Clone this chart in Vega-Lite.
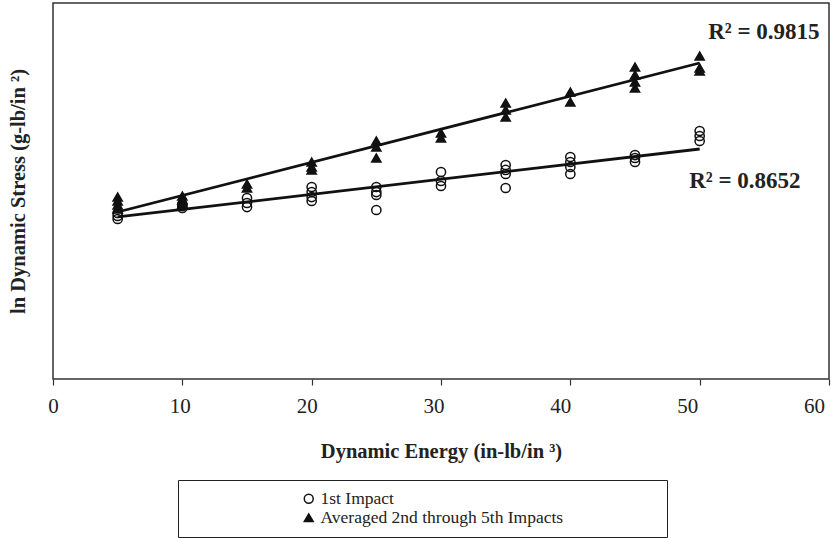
{
  "$schema": "https://vega.github.io/schema/vega-lite/v6.json",
  "width": 776,
  "height": 376,
  "autosize": "none",
  "padding": {"left": 53, "top": 3, "right": 2, "bottom": 159},
  "background": "white",
  "config": {
    "view": {"stroke": "#333333", "strokeWidth": 1.5},
    "font": "Liberation Serif",
    "axis": {"grid": false},
    "legend": {
      "orient": "none",
      "legendX": 125,
      "legendY": 477,
      "strokeColor": "#222222",
      "fillColor": "white",
      "padding": 10,
      "symbolOffset": 112,
      "labelOffset": 3,
      "labelFontSize": 17.5,
      "labelFont": "Liberation Serif",
      "labelColor": "#222222",
      "labelLimit": 800,
      "symbolSize": 80,
      "symbolStrokeWidth": 1.5,
      "rowPadding": 0,
      "titleOrient": "right",
      "titlePadding": 94,
      "titleFontSize": 17.5,
      "titleFont": "Liberation Serif"
    }
  },
  "datasets": {
    "points": [
      {"energy": 5, "stress": 4.415, "impact": "1st Impact"},
      {"energy": 5, "stress": 4.335, "impact": "1st Impact"},
      {"energy": 5, "stress": 4.255, "impact": "1st Impact"},
      {"energy": 10, "stress": 4.654, "impact": "1st Impact"},
      {"energy": 10, "stress": 4.601, "impact": "1st Impact"},
      {"energy": 10, "stress": 4.548, "impact": "1st Impact"},
      {"energy": 15, "stress": 4.814, "impact": "1st Impact"},
      {"energy": 15, "stress": 4.681, "impact": "1st Impact"},
      {"energy": 15, "stress": 4.574, "impact": "1st Impact"},
      {"energy": 20, "stress": 5.106, "impact": "1st Impact"},
      {"energy": 20, "stress": 4.973, "impact": "1st Impact"},
      {"energy": 20, "stress": 4.840, "impact": "1st Impact"},
      {"energy": 20, "stress": 4.734, "impact": "1st Impact"},
      {"energy": 25, "stress": 5.106, "impact": "1st Impact"},
      {"energy": 25, "stress": 4.973, "impact": "1st Impact"},
      {"energy": 25, "stress": 4.894, "impact": "1st Impact"},
      {"energy": 25, "stress": 4.495, "impact": "1st Impact"},
      {"energy": 30, "stress": 5.505, "impact": "1st Impact"},
      {"energy": 30, "stress": 5.266, "impact": "1st Impact"},
      {"energy": 30, "stress": 5.133, "impact": "1st Impact"},
      {"energy": 35, "stress": 5.691, "impact": "1st Impact"},
      {"energy": 35, "stress": 5.559, "impact": "1st Impact"},
      {"energy": 35, "stress": 5.452, "impact": "1st Impact"},
      {"energy": 35, "stress": 5.080, "impact": "1st Impact"},
      {"energy": 40, "stress": 5.904, "impact": "1st Impact"},
      {"energy": 40, "stress": 5.771, "impact": "1st Impact"},
      {"energy": 40, "stress": 5.638, "impact": "1st Impact"},
      {"energy": 40, "stress": 5.452, "impact": "1st Impact"},
      {"energy": 45, "stress": 5.957, "impact": "1st Impact"},
      {"energy": 45, "stress": 5.878, "impact": "1st Impact"},
      {"energy": 45, "stress": 5.771, "impact": "1st Impact"},
      {"energy": 50, "stress": 6.596, "impact": "1st Impact"},
      {"energy": 50, "stress": 6.463, "impact": "1st Impact"},
      {"energy": 50, "stress": 6.330, "impact": "1st Impact"},
      {"energy": 5, "stress": 4.840, "impact": "Averaged 2nd through 5th Impacts"},
      {"energy": 5, "stress": 4.734, "impact": "Averaged 2nd through 5th Impacts"},
      {"energy": 5, "stress": 4.628, "impact": "Averaged 2nd through 5th Impacts"},
      {"energy": 5, "stress": 4.521, "impact": "Averaged 2nd through 5th Impacts"},
      {"energy": 10, "stress": 4.867, "impact": "Averaged 2nd through 5th Impacts"},
      {"energy": 10, "stress": 4.761, "impact": "Averaged 2nd through 5th Impacts"},
      {"energy": 10, "stress": 4.654, "impact": "Averaged 2nd through 5th Impacts"},
      {"energy": 15, "stress": 5.186, "impact": "Averaged 2nd through 5th Impacts"},
      {"energy": 15, "stress": 5.080, "impact": "Averaged 2nd through 5th Impacts"},
      {"energy": 20, "stress": 5.771, "impact": "Averaged 2nd through 5th Impacts"},
      {"energy": 20, "stress": 5.638, "impact": "Averaged 2nd through 5th Impacts"},
      {"energy": 20, "stress": 5.559, "impact": "Averaged 2nd through 5th Impacts"},
      {"energy": 25, "stress": 6.330, "impact": "Averaged 2nd through 5th Impacts"},
      {"energy": 25, "stress": 6.170, "impact": "Averaged 2nd through 5th Impacts"},
      {"energy": 25, "stress": 5.878, "impact": "Averaged 2nd through 5th Impacts"},
      {"energy": 30, "stress": 6.543, "impact": "Averaged 2nd through 5th Impacts"},
      {"energy": 30, "stress": 6.410, "impact": "Averaged 2nd through 5th Impacts"},
      {"energy": 35, "stress": 7.340, "impact": "Averaged 2nd through 5th Impacts"},
      {"energy": 35, "stress": 7.154, "impact": "Averaged 2nd through 5th Impacts"},
      {"energy": 35, "stress": 6.968, "impact": "Averaged 2nd through 5th Impacts"},
      {"energy": 40, "stress": 7.633, "impact": "Averaged 2nd through 5th Impacts"},
      {"energy": 40, "stress": 7.367, "impact": "Averaged 2nd through 5th Impacts"},
      {"energy": 45, "stress": 8.298, "impact": "Averaged 2nd through 5th Impacts"},
      {"energy": 45, "stress": 8.085, "impact": "Averaged 2nd through 5th Impacts"},
      {"energy": 45, "stress": 7.899, "impact": "Averaged 2nd through 5th Impacts"},
      {"energy": 45, "stress": 7.739, "impact": "Averaged 2nd through 5th Impacts"},
      {"energy": 50, "stress": 8.590, "impact": "Averaged 2nd through 5th Impacts"},
      {"energy": 50, "stress": 8.271, "impact": "Averaged 2nd through 5th Impacts"},
      {"energy": 50, "stress": 8.191, "impact": "Averaged 2nd through 5th Impacts"}
    ],
    "fit": [
      {"energy": 5, "stress": 4.309, "series": "1st Impact"},
      {"energy": 50, "stress": 6.117, "series": "1st Impact"},
      {"energy": 5, "stress": 4.441, "series": "Averaged"},
      {"energy": 50, "stress": 8.404, "series": "Averaged"}
    ],
    "r2": [
      {"energy": 50.66, "stress": 9.229, "label": "R² = 0.9815"},
      {"energy": 49.19, "stress": 5.266, "label": "R² = 0.8652"}
    ]
  },
  "encoding": {
    "x": {
      "field": "energy",
      "type": "quantitative",
      "scale": {"domain": [0, 60], "nice": false, "zero": false},
      "axis": {
        "title": "Dynamic Energy (in-lb/in ³)",
        "values": [0, 10, 20, 30, 40, 50, 60],
        "domain": false,
        "ticks": true,
        "tickSize": 6,
        "tickColor": "#333333",
        "tickWidth": 1.2,
        "labelFontSize": 21,
        "labelFont": "Liberation Serif",
        "labelColor": "#222222",
        "labelPadding": 10,
        "labelFlush": false,
        "labelOffset": {"expr": "-datum.value/4"},
        "titleFont": "Liberation Serif",
        "titleFontSize": 20.5,
        "titleFontWeight": "bold",
        "titleColor": "#222222",
        "titlePadding": 25,
        "grid": false
      }
    },
    "y": {
      "field": "stress",
      "type": "quantitative",
      "scale": {"domain": [0, 10], "nice": false, "zero": false},
      "axis": {
        "title": "ln Dynamic Stress (g-lb/in ²)",
        "labels": false,
        "ticks": false,
        "domain": false,
        "grid": false,
        "titleFont": "Liberation Serif",
        "titleFontSize": 20.5,
        "titleFontWeight": "bold",
        "titleColor": "#222222",
        "titlePadding": 25
      }
    }
  },
  "layer": [
    {
      "data": {"name": "fit"},
      "mark": {"type": "line", "color": "#111111", "strokeWidth": 2.8},
      "encoding": {"detail": {"field": "series"}}
    },
    {
      "data": {"name": "points"},
      "mark": {"type": "point", "opacity": 1, "strokeWidth": 1.5, "size": 85},
      "encoding": {
        "shape": {
          "field": "impact",
          "type": "nominal",
          "scale": {"domain": ["1st Impact", "Averaged 2nd through 5th Impacts"], "range": ["circle", "triangle-up"]},
          "legend": {"title": "\u00a0"}
        },
        "fill": {
          "field": "impact",
          "type": "nominal",
          "scale": {"domain": ["1st Impact", "Averaged 2nd through 5th Impacts"], "range": ["transparent", "#111111"]},
          "legend": {"title": "\u00a0"}
        },
        "stroke": {
          "field": "impact",
          "type": "nominal",
          "scale": {"domain": ["1st Impact", "Averaged 2nd through 5th Impacts"], "range": ["#111111", "#111111"]},
          "legend": {"title": "\u00a0"}
        }
      }
    },
    {
      "data": {"name": "r2"},
      "mark": {"type": "text", "align": "left", "baseline": "middle", "fontSize": 23, "fontWeight": "bold", "font": "Liberation Serif", "color": "#222222"},
      "encoding": {"text": {"field": "label"}}
    }
  ]
}
